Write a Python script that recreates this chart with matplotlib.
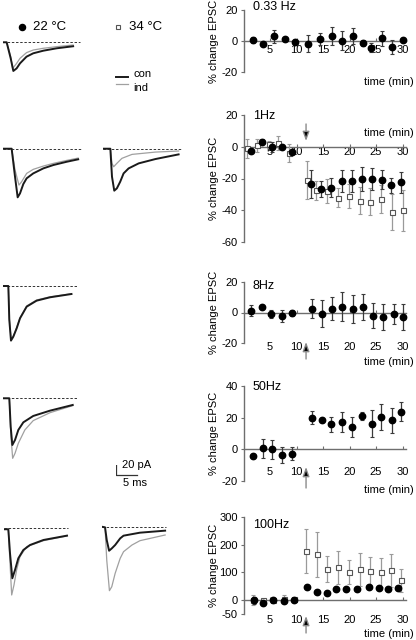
import matplotlib
matplotlib.use('Agg')
import matplotlib.pyplot as plt
from matplotlib.lines import Line2D

plt.rcParams['font.family'] = ['Liberation Sans', 'DejaVu Sans']
plt.rcParams['axes.unicode_minus'] = False

# ---------------- data: time courses (% change EPSC) ----------------
xticks = [5, 10, 15, 20, 25, 30]

hz033_t = [1.7, 3.6, 5.7, 7.75, 9.8, 12.2, 14.5, 16.75, 18.6, 20.6, 22.5, 24.1, 26.1, 28.1, 30.0]
hz033_y = [0.4, -1.9, 3.0, 1.3, -0.9, -1.7, 1.1, 3.2, 0.2, 3.4, -1.3, -4.3, 1.7, -3.9, 0.9]
hz033_e = [2.0, 0.5, 4.3, 0.8, 2.0, 5.4, 4.0, 5.7, 6.0, 5.2, 1.7, 2.7, 5.0, 4.5, 0.5]

hz1_t = [1.4, 3.4, 5.3, 7.2, 9.2, 12.7, 14.6, 16.6, 18.5, 20.5, 22.4, 24.3, 26.1, 27.9, 29.8]
hz1_y = [-2.9, 3.2, -0.2, -0.2, -3.4, -23.4, -26.5, -25.9, -21.7, -21.7, -20.2, -20.4, -20.8, -24.4, -22.5]
hz1_e = [0.8, 1.5, 3.0, 0.8, 0.8, 9.0, 5.0, 6.0, 7.0, 7.0, 7.5, 7.0, 6.0, 4.5, 6.5]
hz1s_t = [0.6, 2.6, 4.75, 6.6, 8.6, 11.9, 13.75, 15.8, 17.9, 19.9, 22.0, 23.9, 25.9, 28.0, 30.0]
hz1s_y = [-1.0, 0.8, 1.5, 2.5, -4.0, -21.0, -27.5, -28.0, -32.0, -31.0, -34.0, -34.5, -33.0, -41.0, -40.0]
hz1s_e = [6.0, 4.0, 2.0, 4.5, 5.5, 12.0, 6.0, 7.5, 6.0, 7.5, 8.5, 8.5, 9.0, 11.5, 13.0]

hz8_t = [1.4, 3.4, 5.25, 7.2, 9.1, 12.9, 14.8, 16.75, 18.6, 20.6, 22.6, 24.4, 26.4, 28.3, 30.1]
hz8_y = [1.1, 3.7, -0.9, -2.2, -0.4, 2.6, -0.7, 2.6, 3.9, 2.0, 3.7, -2.0, -3.0, -0.9, -3.0]
hz8_e = [3.5, 0.8, 2.5, 3.8, 2.0, 6.5, 8.7, 7.5, 9.8, 9.2, 8.5, 8.4, 8.4, 6.7, 8.7]

hz50_t = [1.7, 3.6, 5.4, 7.2, 9.1, 12.9, 14.75, 16.6, 18.6, 20.4, 22.3, 24.2, 26.0, 28.0, 29.7]
hz50_y = [-4.4, 0.6, 0.0, -3.6, -2.7, 20.0, 18.5, 15.8, 17.3, 14.3, 21.0, 16.2, 20.4, 18.3, 23.6]
hz50_e = [0.8, 5.8, 6.0, 5.3, 4.0, 4.2, 1.5, 4.8, 6.3, 6.3, 2.5, 8.5, 8.2, 8.1, 6.0]

hz100_t = [1.9, 3.7, 5.6, 7.6, 9.5, 11.9, 13.9, 15.8, 17.4, 19.4, 21.5, 23.7, 25.6, 27.3, 29.2]
hz100_y = [-1, -12, 0, -2.4, 0, 48, 30, 25, 40, 38.5, 42, 48, 44.5, 42, 44.5]
hz100_e = [13, 5, 5, 5, 3, 5, 5, 5, 5, 5, 5, 5, 5, 5, 5]
hz100s_t = [1.7, 3.6, 5.6, 7.6, 9.6, 11.8, 13.8, 15.8, 17.8, 19.9, 21.9, 23.9, 25.9, 27.9, 29.8]
hz100s_y = [2, 2, 2, 5, 5, 178, 166, 114, 118, 102, 111, 105, 100, 108, 72]
hz100s_e = [18, 3, 10, 14, 3, 80, 81, 47, 61, 44, 60, 52, 51, 59, 41]

induction_time = 11.8

# ---------------- data: EPSC traces (ms, pA relative to baseline) ----------------
tr033_con_t = [0, 0.87, 1.83, 2.46, 3.25, 4.05, 5.6, 7.2, 9.6, 12.8, 16.7]
tr033_con_i = [0, 0, -16.6, -29.7, -27, -21.8, -14.9, -11.4, -8.7, -6.2, -4.1]
tr033_ind_t = [0, 0.87, 1.83, 2.3, 3.25, 4.05, 5.6, 7.2, 9.6, 12.8, 16.7]
tr033_ind_i = [0, 0, -14.9, -27, -21.8, -16.6, -10.7, -8.0, -6.2, -4.5, -2.8]

tr1a_con_t = [0, 2.06, 2.86, 3.49, 4.05, 4.84, 5.63, 7.2, 9.6, 12.0, 15.2, 17.9]
tr1a_con_i = [0, 0, -29, -50.4, -46.3, -36.6, -30.7, -25.6, -20.4, -16.9, -13.5, -11]
tr1a_ind_t = [0, 2.06, 2.86, 3.8, 4.44, 5.63, 7.2, 9.6, 12.0, 15.2, 17.9]
tr1a_ind_i = [0, 0, -22, -37.7, -34.2, -25.6, -21.4, -18, -15.2, -12.1, -9.7]

tr1b_con_t = [0, 1.75, 2.14, 2.68, 3.3, 4.1, 4.9, 6.1, 8.5, 12.5, 18.0]
tr1b_con_i = [0, 0, -29, -43.5, -41.1, -34.2, -25.6, -20.4, -15.2, -10.7, -5.9]
tr1b_ind_t = [0, 1.75, 2.14, 2.54, 3.3, 4.5, 6.9, 12.5, 18.0]
tr1b_ind_i = [0, 0, -15.2, -18.7, -15.2, -10, -5.9, -3.5, -2.4]

tr8_con_t = [0, 1.27, 1.5, 1.9, 2.46, 3.25, 4.05, 5.63, 8.0, 11.2, 16.3]
tr8_con_i = [0, 0, -35, -56.6, -52.5, -43.9, -33.5, -21.4, -15.2, -11.7, -8.3]
tr8_ind_t = [0, 1.27, 1.5, 1.95, 2.5, 3.3, 4.1, 5.7, 8.0, 11.2, 16.3]
tr8_ind_i = [0, 0, -33, -55.5, -51.5, -42.5, -32.5, -20.5, -14.5, -11.2, -8.0]

tr50_con_t = [0, 1.5, 1.83, 2.22, 2.86, 3.65, 4.84, 7.2, 11.2, 16.6]
tr50_con_i = [0, 0, -29.4, -48.4, -43.2, -32.8, -24.9, -18.3, -12.8, -6.9]
tr50_ind_t = [0, 1.5, 1.9, 2.3, 2.86, 3.65, 5.2, 7.2, 11.2, 16.6]
tr50_ind_i = [0, 0, -39.7, -62.2, -57, -46.6, -32.8, -23.1, -14.9, -7.6]

tr100a_con_t = [0, 1.03, 1.43, 1.98, 2.62, 3.41, 4.6, 6.2, 9.4, 15.0]
tr100a_con_i = [-1, -1, -25.9, -51.8, -43.2, -31.1, -22.5, -17.3, -12.1, -7.6]
tr100a_ind_t = [0, 1.03, 1.43, 1.83, 2.38, 3.0, 3.8, 5.4, 9.4, 15.0]
tr100a_ind_i = [-1, -1, -36.3, -69.1, -58.7, -43.2, -29.4, -19, -12.8, -7.9]

tr100b_con_t = [0, 0.8, 1.2, 1.76, 2.4, 3.2, 4.4, 5.2, 9.1, 15.1]
tr100b_con_i = [0, -0.7, -13.8, -24.9, -22.5, -19, -12.1, -9.3, -6.2, -4.1]
tr100b_ind_t = [0, 0.8, 1.2, 1.84, 2.4, 3.2, 4.4, 5.2, 7.2, 9.1, 15.1]
tr100b_ind_i = [0, -0.7, -34.5, -66.3, -62.2, -48.4, -32.8, -25.9, -19, -14.5, -8.6]

scale_pa = 20
scale_ms = 5

# ---------------- layout ----------------
W, H = 416, 640
fig = plt.figure(figsize=(W / 100, H / 100), dpi=100)


def fx(px):
    return px / W


def fy(py):
    return 1 - py / H


AX_COL = '#6e6e6e'
FS = 8

X0, X1 = 243.5, 405.7


def panel(top, bot, ylo, yhi, yticks, pad):
    ax = fig.add_axes([fx(X0), fy(bot), (X1 - X0) / W, (bot - top) / H])
    ax.set_xlim(0, 30.6)
    ax.set_ylim(ylo, yhi)
    for s in ('top', 'right'):
        ax.spines[s].set_visible(False)
    ax.spines['bottom'].set_position(('data', 0))
    for s in ('left', 'bottom'):
        ax.spines[s].set_color(AX_COL)
        ax.spines[s].set_linewidth(1.0)
    ax.set_xticks(xticks)
    ax.set_yticks(yticks)
    ax.tick_params(axis='x', direction='in', length=2.5, pad=pad, labelsize=FS,
                   color=AX_COL, width=0.8)
    ax.tick_params(axis='y', direction='out', length=2.5, pad=1.5, labelsize=FS,
                   color=AX_COL, width=0.8)
    ax.patch.set_alpha(0)
    return ax


def circles(ax, t, y, e):
    ax.errorbar(t, y, yerr=e, fmt='o', ms=4.6, mfc='black', mec='black',
                ecolor='#3a3a3a', elinewidth=0.9, capsize=1.6, capthick=0.8,
                zorder=4, clip_on=False)


def squares(ax, t, y, e):
    ax.errorbar(t, y, yerr=e, fmt='s', ms=3.6, mfc='white', mec='#555555',
                mew=0.8, ecolor='#9a9a9a', elinewidth=0.9, capsize=1.6,
                capthick=0.8, zorder=3, clip_on=False)


def arrow(ax, tail_px, tip_px):
    ax.annotate('', xy=(induction_time, H - tip_px), xytext=(induction_time, H - tail_px),
                xycoords=('data', 'figure pixels'), textcoords=('data', 'figure pixels'),
                arrowprops=dict(arrowstyle='-|>,head_length=0.55,head_width=0.2',
                                fc='black', ec='#8a8a8a', lw=1.0, shrinkA=0, shrinkB=0))


def ylab(top, bot):
    fig.text(fx(214), fy((top + bot) / 2), '% change EPSC', rotation=90,
             ha='center', va='center', fontsize=FS)


def timelab(py):
    fig.text(fx(414), fy(py), 'time (min)', ha='right', va='center', fontsize=FS)


def title(py, s):
    fig.text(fx(253), fy(py), s, ha='left', va='center', fontsize=9)


# Panel 0.33 Hz
a = panel(10, 72, -20, 20, [-20, 0, 20], 3.0)
circles(a, hz033_t, hz033_y, hz033_e)
ylab(10, 72); timelab(82); title(7, '0.33 Hz')

# Panel 1 Hz
a = panel(115, 242, -60, 20, [-60, -40, -20, 0, 20], 0.3)
squares(a, hz1s_t, hz1s_y, hz1s_e)
circles(a, hz1_t, hz1_y, hz1_e)
arrow(a, 124, 141)
ylab(115, 242); timelab(133); title(116, '1Hz')

# Panel 8 Hz
a = panel(282, 343, -20, 20, [-20, 0, 20], 21)
circles(a, hz8_t, hz8_y, hz8_e)
arrow(a, 359, 342)
ylab(282, 343); timelab(362); title(286, '8Hz')

# Panel 50 Hz
a = panel(386, 481, -20, 40, [-20, 0, 20, 40], 12.5)
circles(a, hz50_t, hz50_y, hz50_e)
arrow(a, 488, 467)
ylab(386, 481); timelab(490); title(387, '50Hz')

# Panel 100 Hz
a = panel(517, 614, -50, 300, [-50, 0, 100, 200, 300], 10.5)
squares(a, hz100s_t, hz100s_y, hz100s_e)
circles(a, hz100_t, hz100_y, hz100_e)
arrow(a, 633, 616)
ylab(517, 614); timelab(634); title(525, '100Hz')

# ---------------- traces ----------------
PX_MS = 4.2
PX_PA = 0.965


def trace_ax(x0, base):
    w, up, down = 95, 10, 80
    ax = fig.add_axes([fx(x0), fy(base + down), w / W, (up + down) / H])
    ax.set_xlim(0, w / PX_MS)
    ax.set_ylim(-down / PX_PA, up / PX_PA)
    ax.axis('off')
    return ax


def draw_trace(x0, base, base_len, con, ind, b0=0.0):
    ax = trace_ax(x0, base)
    ax.plot([b0, base_len], [0, 0], ls=(0, (2.5, 1.8)), color='#333333', lw=0.7)
    ax.plot(ind[0], ind[1], color='#a0a0a0', lw=0.9, solid_joinstyle='round')
    ax.plot(con[0], con[1], color='#1a1a1a', lw=1.4, solid_joinstyle='round')
    return ax


draw_trace(3, 42.3, 18.4, (tr033_con_t, tr033_con_i), (tr033_ind_t, tr033_ind_i))
draw_trace(3, 148.7, 18.8, (tr1a_con_t, tr1a_con_i), (tr1a_ind_t, tr1a_ind_i))
draw_trace(103, 148.7, 18.7, (tr1b_con_t, tr1b_con_i), (tr1b_ind_t, tr1b_ind_i))
draw_trace(3, 286, 17.7, (tr8_con_t, tr8_con_i), (tr8_ind_t, tr8_ind_i))
draw_trace(3, 398.3, 17.7, (tr50_con_t, tr50_con_i), (tr50_ind_t, tr50_ind_i))
draw_trace(4, 528.3, 15.3, (tr100a_con_t, tr100a_con_i), (tr100a_ind_t, tr100a_ind_i))
draw_trace(101.7, 526.7, 15.3, (tr100b_con_t, tr100b_con_i), (tr100b_ind_t, tr100b_ind_i))

# scale bar
sb = trace_ax(115.7, 475)
sb.plot([0, 0, scale_ms], [scale_pa, 0, 0], color='#333333', lw=0.9)
fig.text(fx(122.5), fy(465), '20 pA', ha='left', va='center', fontsize=FS)
fig.text(fx(123), fy(483), '5 ms', ha='left', va='center', fontsize=FS)

# ---------------- legend ----------------
fig.add_artist(Line2D([fx(22)], [fy(27)], marker='o', ms=4.4, mfc='black', mec='black', ls=''))
fig.text(fx(33), fy(27), '22 °C', ha='left', va='center', fontsize=9.5)
fig.add_artist(Line2D([fx(118)], [fy(27)], marker='s', ms=3.4, mfc='white', mec='#555555',
                      mew=0.8, ls=''))
fig.text(fx(129), fy(27), '34 °C', ha='left', va='center', fontsize=9.5)
fig.add_artist(Line2D([fx(116), fx(128)], [fy(77.3), fy(77.3)], color='#1a1a1a', lw=1.4))
fig.add_artist(Line2D([fx(116), fx(128)], [fy(84), fy(84)], color='#a0a0a0', lw=0.9))
fig.text(fx(133), fy(74), 'con', ha='left', va='center', fontsize=FS)
fig.text(fx(133), fy(88), 'ind', ha='left', va='center', fontsize=FS)

fig.savefig('out.png', dpi=100)
